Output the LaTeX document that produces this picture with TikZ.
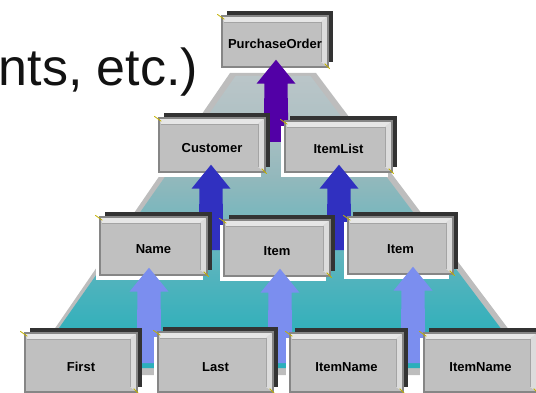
\documentclass[tikz,border=0pt]{standalone}
\usepackage{fontspec}
\setmainfont{Liberation Sans}
\usetikzlibrary{calc,shadows}

\definecolor{btnface}{HTML}{C0C0C0}
\definecolor{btnedge}{HTML}{868686}
\definecolor{btnhi}{HTML}{E6E6E6}
\definecolor{btnside}{HTML}{DCDCDC}
\definecolor{btnline}{HTML}{A4A4A4}
\definecolor{btnshadow}{HTML}{333333}
\definecolor{tickcol}{HTML}{C2B000}
\definecolor{pyrside}{HTML}{BDBDBD}
\definecolor{pyrA}{HTML}{2AAFBB}
\definecolor{pyrB}{HTML}{34B0BB}
\definecolor{pyrC}{HTML}{62B5BE}
\definecolor{pyrD}{HTML}{92B8BC}
\definecolor{pyrE}{HTML}{AFC1C4}
\definecolor{pyrF}{HTML}{BAC5C8}
\definecolor{arrPurple}{HTML}{5200A6}
\definecolor{arrBlue}{HTML}{3030C0}
\definecolor{arrLight}{HTML}{7B8EEF}

% face of the stepped pyramid: grey-blue at the top, teal at the base
\pgfdeclareverticalshading{pyramidface}{100bp}{%
  color(0bp)=(pyrA); color(25bp)=(pyrA); color(32bp)=(pyrB);
  color(45bp)=(pyrC); color(57.5bp)=(pyrD); color(67.5bp)=(pyrE);
  color(75bp)=(pyrF); color(100bp)=(pyrF)}

\tikzset{
  btn/.style={rectangle, fill=btnface, draw=btnedge, line width=1.4pt,
    inner sep=0pt, font=\bfseries\fontsize{13}{13}\selectfont,
    text height=15pt, text depth=0pt,
    general shadow={fill=white, shadow xshift=-4pt, shadow yshift=-5pt},
    general shadow={fill=btnshadow, shadow xshift=5pt, shadow yshift=5pt},
    path picture={
      \coordinate (bnw) at (path picture bounding box.north west);
      \coordinate (bne) at (path picture bounding box.north east);
      \coordinate (bse) at (path picture bounding box.south east);
      \fill[btnhi] (bnw) -- (bne) -- ($(bne)+(-7,6)$) -- ($(bnw)+(2,6)$) -- cycle;
      \fill[btnside] (bne) -- (bse) -- ($(bse)+(-7,-5)$) -- ($(bne)+(-7,6)$) -- cycle;
      \draw[btnline, line width=.6pt] ($(bnw)+(2,6)$) -- ($(bne)+(-7,6)$) -- ($(bse)+(-7,-5)$);
    }},
  lowtext/.style={text height=18pt},
  tick/.style={draw=tickcol, line width=.8pt},
}

% broad upward arrow from a tail coordinate to just inside the bottom of a node
\newcommand\upconn[3]{%
  \path (#2 |- #3.south) coordinate (tb);
  \coordinate (tp) at ($(tb)+(0,-8)$);
  \fill[#1] (tp) -- ($(tp)+(19.5,24)$) -- ($(tp)+(11.5,24)$)
    -- ($(#2)+(12.5,0)$) -- ($(#2)+(-12.5,0)$)
    -- ($(tp)+(-11.5,24)$) -- ($(tp)+(-19.5,24)$) -- cycle;
}

\begin{document}
\begin{tikzpicture}[x=1pt,y=-1pt]
\useasboundingbox (0,0) rectangle (536,393);

% pyramid base with grey sides
\fill[pyrside] (230,73) -- (316,73) -- (543,375) -- (23,375) -- cycle;
\shade[shading=pyramidface] (235.6,76) -- (310.5,76) -- (530.7,368) -- (31,368) -- cycle;

\node[font=\fontsize{52}{52}\selectfont, anchor=base west, inner sep=0pt, text=black!93]
  (head) at (-1.5,86) {nts, etc.)};

% tail points of the arrows
\coordinate (poIn) at (276,142);
\coordinate (custIn) at (211,250);
\coordinate (listIn) at (339,250);
\coordinate (nameIn) at (149,363);
\coordinate (itemAIn) at (280,363);
\coordinate (itemBIn) at (413,363);

% level 1
\node[btn, minimum width=106pt, minimum height=51pt] (po) at (275,41.5) {PurchaseOrder};
\upconn{arrPurple}{poIn}{po}

% level 2
\node[btn, minimum width=106pt, minimum height=54pt] (cust) at (212,145) {Customer};
\node[btn, minimum width=107pt, minimum height=51pt] (ilist) at (338.5,146.5) {ItemList};
\upconn{arrBlue}{custIn}{cust}
\upconn{arrBlue}{listIn}{ilist}

% level 3
\node[btn, minimum width=107pt, minimum height=58pt] (name) at (153.5,246) {Name};
\node[btn, minimum width=106pt, minimum height=56pt] (itemA) at (277,248) {Item};
\node[btn, minimum width=105pt, minimum height=57pt] (itemB) at (400.5,245.5) {Item};
\upconn{arrLight}{nameIn}{name}
\upconn{arrLight}{itemAIn}{itemA}
\upconn{arrLight}{itemBIn}{itemB}

% level 4
\node[btn, lowtext, minimum width=112pt, minimum height=59pt] (first) at (81,362.5) {First};
\node[btn, lowtext, minimum width=115pt, minimum height=60pt] (last) at (215.5,362) {Last};
\node[btn, lowtext, minimum width=113pt, minimum height=59pt] (inameA) at (346.5,362.5) {ItemName};
\node[btn, lowtext, minimum width=113pt, minimum height=59pt] (inameB) at (480.5,362.5) {ItemName};

% small corner marks on every button
\foreach \b in {po,cust,ilist,name,itemA,itemB,first,last,inameA,inameB}{
  \draw[tick] ($(\b.north west)+(-4,-1)$) -- ($(\b.north west)+(3,4)$);
  \draw[tick] ($(\b.south east)+(-4,-4)$) -- ($(\b.south east)+(1,1)$);
}
\end{tikzpicture}
\end{document}
